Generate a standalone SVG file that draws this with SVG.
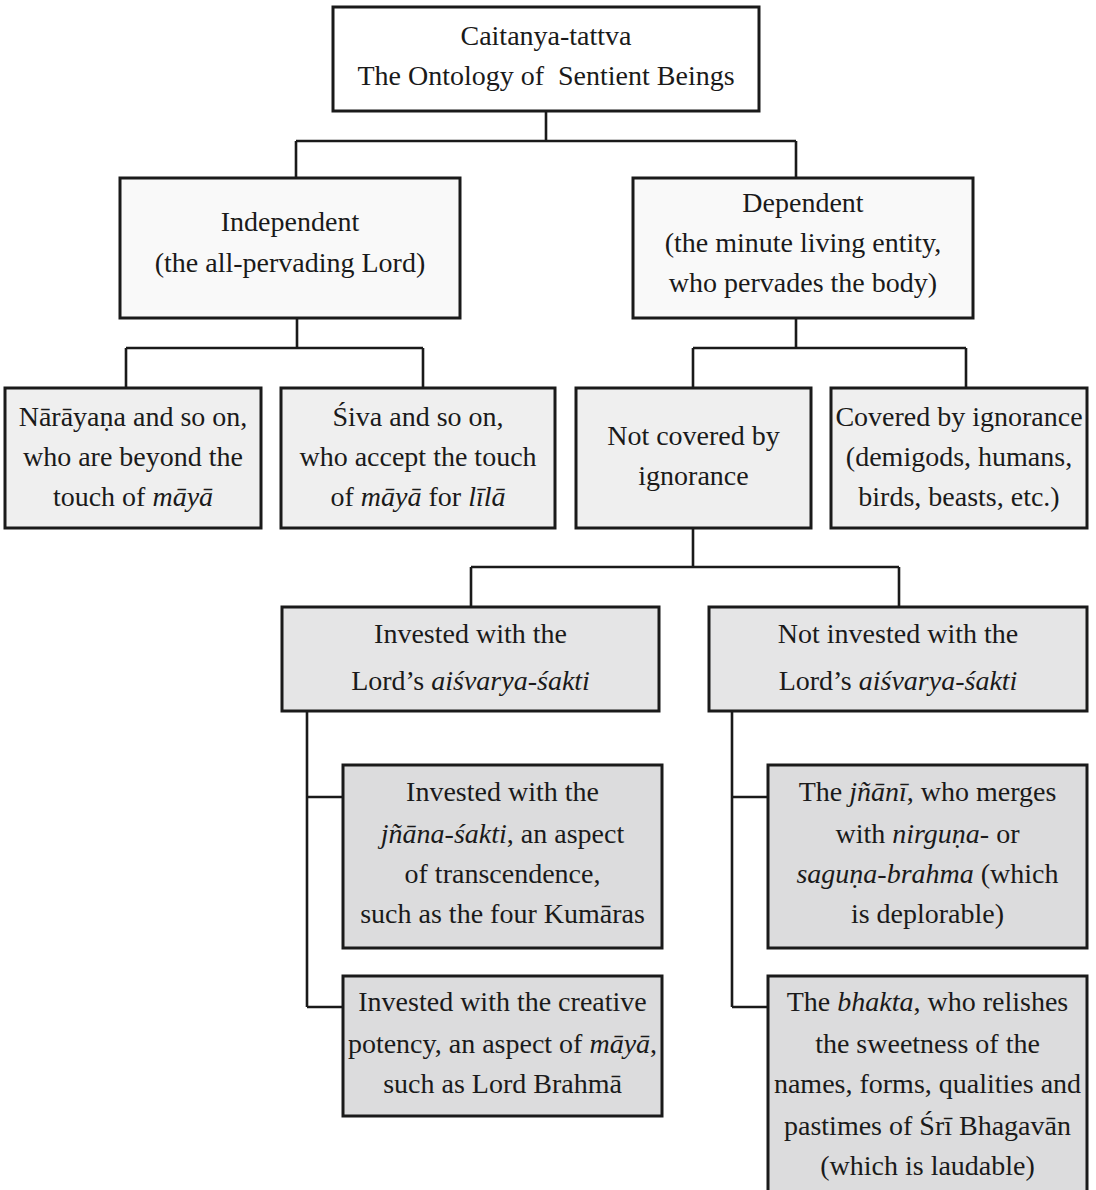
<svg xmlns="http://www.w3.org/2000/svg" width="1096" height="1190" viewBox="0 0 1096 1190">
<style>
.box{stroke:#1a1a1a;stroke-width:3}
.l0{fill:#ffffff}.l1{fill:#f9f9f9}.l2{fill:#efefef}.l3{fill:#e5e5e6}.l4{fill:#dcdcdd}
text{font-family:"Liberation Serif","DejaVu Serif",serif;font-size:28px;fill:#1a1a1a;text-anchor:middle}
.i{font-style:italic}
#connectors path{fill:none;stroke:#1a1a1a;stroke-width:2.6}
</style>
<rect width="1096" height="1190" fill="#ffffff"/>
<g id="connectors">
<path d="M546 111V141M296 141H796M296 141V178M796 141V178"/>
<path d="M297 318V348M126 348H423M126 348V388M423 348V388"/>
<path d="M796 318V348M693 348H966M693 348V388M966 348V388"/>
<path d="M693 528V567M471 567H899M471 567V607M899 567V607"/>
<path d="M307 711V1007M307 797H343M307 1007H343"/>
<path d="M732 711V1007M732 797H768M732 1007H768"/>
</g>
<g id="root">
<rect class="box l0" x="333" y="7" width="426" height="104"/>
<text x="546" y="45">Caitanya-tattva</text>
<text x="546" y="85" xml:space="preserve">The Ontology of  Sentient Beings</text>
</g>
<g id="independent">
<rect class="box l1" x="120" y="178" width="340" height="140"/>
<text x="290" y="231">Independent</text>
<text x="290" y="272">(the all-pervading Lord)</text>
</g>
<g id="dependent">
<rect class="box l1" x="633" y="178" width="340" height="140"/>
<text x="803" y="212">Dependent</text>
<text x="803" y="252">(the minute living entity,</text>
<text x="803" y="292">who pervades the body)</text>
</g>
<g id="narayana">
<rect class="box l2" x="5" y="388" width="256" height="140"/>
<text x="133" y="426">Nārāyaṇa and so on,</text>
<text x="133" y="466">who are beyond the</text>
<text x="133" y="506">touch of <tspan class="i">māyā</tspan></text>
</g>
<g id="siva">
<rect class="box l2" x="281" y="388" width="274" height="140"/>
<text x="418" y="426">Śiva and so on,</text>
<text x="418" y="466">who accept the touch</text>
<text x="418" y="506">of <tspan class="i">māyā</tspan> for <tspan class="i">līlā</tspan></text>
</g>
<g id="not-covered">
<rect class="box l2" x="576" y="388" width="235" height="140"/>
<text x="693.5" y="445">Not covered by</text>
<text x="693.5" y="485">ignorance</text>
</g>
<g id="covered">
<rect class="box l2" x="831" y="388" width="256" height="140"/>
<text x="959" y="426">Covered by ignorance</text>
<text x="959" y="466">(demigods, humans,</text>
<text x="959" y="506">birds, beasts, etc.)</text>
</g>
<g id="invested">
<rect class="box l3" x="282" y="607" width="377" height="104"/>
<text x="470.5" y="643">Invested with the</text>
<text x="470.5" y="690">Lord’s <tspan class="i">aiśvarya-śakti</tspan></text>
</g>
<g id="not-invested">
<rect class="box l3" x="709" y="607" width="378" height="104"/>
<text x="898" y="643">Not invested with the</text>
<text x="898" y="690">Lord’s <tspan class="i">aiśvarya-śakti</tspan></text>
</g>
<g id="jnana-sakti">
<rect class="box l4" x="343" y="765" width="319" height="183"/>
<text x="502.5" y="801">Invested with the</text>
<text x="502.5" y="843"><tspan class="i">jñāna-śakti</tspan>, an aspect</text>
<text x="502.5" y="883">of transcendence,</text>
<text x="502.5" y="923">such as the four Kumāras</text>
</g>
<g id="creative">
<rect class="box l4" x="343" y="976" width="319" height="140"/>
<text x="502.5" y="1011">Invested with the creative</text>
<text x="502.5" y="1053">potency, an aspect of <tspan class="i">māyā</tspan>,</text>
<text x="502.5" y="1093">such as Lord Brahmā</text>
</g>
<g id="jnani">
<rect class="box l4" x="768" y="765" width="319" height="183"/>
<text x="927.5" y="801">The <tspan class="i">jñānī</tspan>, who merges</text>
<text x="927.5" y="843">with <tspan class="i">nirguṇa-</tspan> or</text>
<text x="927.5" y="883"><tspan class="i">saguṇa-brahma</tspan> (which</text>
<text x="927.5" y="923">is deplorable)</text>
</g>
<g id="bhakta">
<rect class="box l4" x="768" y="976" width="319" height="260"/>
<text x="927.5" y="1011">The <tspan class="i">bhakta</tspan>, who relishes</text>
<text x="927.5" y="1053">the sweetness of the</text>
<text x="927.5" y="1093">names, forms, qualities and</text>
<text x="927.5" y="1135">pastimes of Śrī Bhagavān</text>
<text x="927.5" y="1175">(which is laudable)</text>
</g>
</svg>
